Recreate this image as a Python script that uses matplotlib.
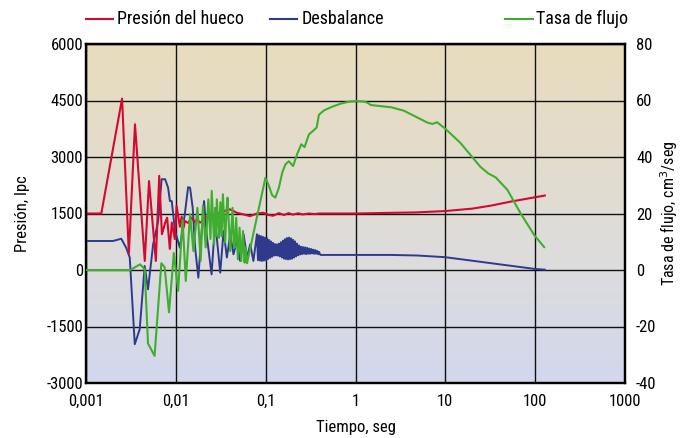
import numpy as np
import matplotlib
matplotlib.use("Agg")
import matplotlib.pyplot as plt
from matplotlib import font_manager
from matplotlib.lines import Line2D
from matplotlib.colors import LinearSegmentedColormap

# ---------------- data ----------------
x_ticks = [0.001, 0.01, 0.1, 1, 10, 100, 1000]
x_ticklabels = ["0,001", "0,01", "0,1", "1", "10", "100", "1000"]
yl_ticks = [-3000, -1500, 0, 1500, 3000, 4500, 6000]
yr_ticks = [-40, -20, 0, 20, 40, 60, 80]

red_t = [0.001, 0.00148, 0.00252, 0.0030, 0.00351, 0.00451, 0.00503, 0.00599, 0.00653,
         0.0070, 0.0076, 0.0080, 0.00857, 0.00902, 0.00974, 0.0102, 0.0111, 0.0116,
         0.0122, 0.0126, 0.0137, 0.0150, 0.0164, 0.0171, 0.0186, 0.0200, 0.0211, 0.0240,
         0.0285, 0.0330, 0.0402, 0.0477, 0.0580, 0.067, 0.080, 0.0937, 0.108, 0.121,
         0.14, 0.16, 0.18, 0.20, 0.23, 0.26, 0.30, 0.35, 0.40, 1.0, 4.85, 10, 20, 32,
         53.5, 100, 128]
red_p = [1500, 1500, 4550, 430, 3870, 240, 2360, 240, 2500,
         950, 1250, 1390, 560, 1260, 820, 1700, 1150, 1420,
         1120, 1300, 1250, 1390, 1260, 1350, 1260, 1300, 1390, 1420,
         1480, 1550, 1610, 1520, 1470, 1430, 1500, 1520, 1460, 1440,
         1510, 1460, 1510, 1470, 1505, 1475, 1500, 1485, 1500, 1500, 1530, 1565, 1630, 1708,
         1816, 1932, 1977]

blue_t = [0.001, 0.002, 0.00247, 0.0028, 0.00307, 0.00349, 0.00396, 0.0045, 0.0049,
          0.00559, 0.00636, 0.00695, 0.0076, 0.0082, 0.0086, 0.0090, 0.0098, 0.0111,
          0.0126, 0.0137, 0.0144, 0.0154, 0.0164, 0.0178, 0.0194, 0.0206, 0.022, 0.025,
          0.0274, 0.0312, 0.034, 0.037, 0.0403, 0.0438, 0.048, 0.052, 0.0568, 0.062,
          0.0673, 0.073,
          0.0800, 0.0821, 0.0842, 0.0864, 0.0886, 0.0909, 0.0933, 0.0957, 0.0982, 0.1008,
          0.1034, 0.1061, 0.1088, 0.1117, 0.1146, 0.1175, 0.1206, 0.1237, 0.1270, 0.1303,
          0.1336, 0.1371, 0.1407, 0.1443, 0.1481, 0.1520, 0.1559, 0.1600, 0.1641, 0.1684,
          0.1728, 0.1773, 0.1819, 0.1866, 0.1915, 0.1965, 0.2016, 0.2068, 0.2122, 0.2177,
          0.2234, 0.2292, 0.2352, 0.2413, 0.2476, 0.2540, 0.2606, 0.2674, 0.2744, 0.2815,
          0.2889, 0.2964, 0.3041, 0.3120, 0.3201, 0.3285, 0.3370, 0.3458, 0.3548, 0.3640,
          0.3735, 0.3832, 0.3932, 0.4034,
          0.41, 1.0, 2.5, 4.85, 10, 26.8, 100, 128]
blue_p = [770, 770, 830, 590, 330, -1970, -1575, 106, -513,
          680, 1300, 2410, 2410, 2185, 1830, 1830, 1035, 590,
          1490, 2200, 2185, 1655, 590, -205, 1035, 1830, 945, -115,
          1300, -70, 1035, 330, 945, 417, 770, 240, 945, 330,
          680, 240,
          950, 260, 920, 250, 900, 240, 880, 250, 860, 260,
          840, 290, 800, 320, 760, 350, 720, 380, 690, 390,
          680, 380, 700, 360, 740, 330, 780, 300, 820, 290,
          850, 280, 860, 290, 840, 300, 800, 330, 760, 360,
          700, 390, 650, 410, 620, 420, 610, 430, 600, 420,
          590, 430, 570, 430, 560, 440, 540, 430, 530, 430,
          510, 420, 480, 410,
          400, 400, 400, 385, 340, 206, 27, 9]

flow_t = [0.001, 0.0031, 0.0040, 0.0045, 0.0049, 0.0058, 0.0069, 0.0075, 0.0084, 0.0095,
          0.0106, 0.0119, 0.0129, 0.0144, 0.0157, 0.0174, 0.0189, 0.0200, 0.0215, 0.0230,
          0.0243, 0.0251, 0.0267, 0.0274, 0.0280, 0.0286, 0.0303, 0.0313, 0.0323, 0.0334,
          0.0354, 0.0365, 0.0376, 0.0403, 0.0428, 0.0440, 0.0450, 0.0470, 0.0491, 0.0512,
          0.0535, 0.0559, 0.0582, 0.0600, 0.0620, 0.0993,
          0.108, 0.118, 0.128, 0.140, 0.153, 0.166, 0.181, 0.202, 0.224, 0.249, 0.271,
          0.303, 0.330, 0.369, 0.392, 0.446, 0.55, 0.686, 0.85, 1.05, 1.25, 1.36, 1.48,
          1.92, 2.5, 3.45, 6.3, 7.2, 8.1, 10, 14.7, 24.6, 30, 36.3, 49, 69, 98, 126]
flow_v = [0, 0, 2, 0.3, -26, -30.4, 2.4, 1, -15, 6,
          -7.4, 17.8, -3.9, 19.7, 6.7, 22, 3.2, 22.7, 8, 25,
          11, 28, 9.1, 22, 12, 25, 11.4, 24, 12, 26.8,
          9.7, 20, 25.6, 6.7, 22, 10, 7.9, 18.5, 3.8, 15,
          3.2, 13.8, 2.6, 8, 2.4, 32.6,
          30, 26.5, 25.6, 29, 34.5, 37.4, 38.5, 36.8, 41, 44.5, 43.5,
          48, 49, 50.4, 55, 56.5, 57.8, 58.9, 59.6, 59.8, 59.6, 59.2, 58.4,
          58, 57.6, 56.4, 52.2, 51.7, 52.3, 50, 45, 36.5, 34.2, 32.8, 28.4, 20, 12.3, 8.1]

series_names = ["Presión del hueco", "Desbalance", "Tasa de flujo"]

# ---------------- style ----------------
names = {f.name for f in font_manager.fontManager.ttflist}
font = "DejaVu Sans"
for cand in ["Liberation Sans Narrow", "DejaVu Sans Condensed", "Roboto Condensed", "Liberation Sans"]:
    if cand in names:
        font = cand
        break
plt.rcParams["font.family"] = [font, "DejaVu Sans"]
plt.rcParams["axes.unicode_minus"] = False
FS = 12

RED = "#d4092f"
BLUE = "#2f3a8d"
GREEN = "#3fae2f"

fig = plt.figure(figsize=(6.83, 4.38), dpi=100)
rect = [86 / 683, 1 - 383 / 438, (625 - 86) / 683, (383 - 44) / 438]

# background gradient axes
bg = fig.add_axes(rect, zorder=0)
cmap = LinearSegmentedColormap.from_list("bg", ["#d2d7ed", "#dcdcde", "#e3dccd", "#e9dcbe"])
grad = np.linspace(0, 1, 256).reshape(-1, 1)
bg.imshow(grad, aspect="auto", cmap=cmap, origin="lower", extent=[0, 1, 0, 1])
bg.set_axis_off()

ax = fig.add_axes(rect, zorder=1)
ax.patch.set_alpha(0)
ax.set_xscale("log")
ax.set_xlim(0.001, 1000)
ax.set_ylim(-3000, 6000)
ax.set_xticks(x_ticks)
ax.set_xticklabels(x_ticklabels)
ax.minorticks_off()
ax.set_yticks(yl_ticks)
ax.grid(True, color="#111111", lw=1.0)
ax.set_axisbelow(True)
ax.tick_params(length=0, labelsize=FS)
ax.tick_params(axis="x", pad=8)
ax.tick_params(axis="y", pad=2)
for s in ax.spines.values():
    s.set_linewidth(1.6)
    s.set_color("black")

ax.plot(blue_t, blue_p, color=BLUE, lw=1.4, zorder=3)
ax.plot(red_t, red_p, color=RED, lw=1.5, zorder=4)

ax2 = ax.twinx()
ax2.set_ylim(-40, 80)
ax2.set_yticks(yr_ticks)
ax2.tick_params(length=0, labelsize=FS, pad=8)
ax2.minorticks_off()
for s in ax2.spines.values():
    s.set_linewidth(1.6)
ax2.plot(flow_t, flow_v, color=GREEN, lw=1.5, zorder=5)

ax.set_xlabel("Tiempo, seg", fontsize=FS, labelpad=8)
ax.set_ylabel("Presión, lpc", fontsize=FS, labelpad=12)
ax2.set_ylabel("Tasa de flujo, cm$^3$/seg", fontsize=FS - 0.5, labelpad=1)

# legend above plot
ly = 1 - 19 / 438
for (x0, x1, xt), name, col in zip([(86, 113, 117), (270, 297, 302), (505, 533, 536)],
                                   series_names, [RED, BLUE, GREEN]):
    fig.add_artist(Line2D([x0 / 683, x1 / 683], [ly, ly], color=col, lw=1.5,
                          transform=fig.transFigure))
    fig.text(xt / 683, ly, name, fontsize=FS + 1, va="center", ha="left")

fig.savefig("out.png", dpi=100)
